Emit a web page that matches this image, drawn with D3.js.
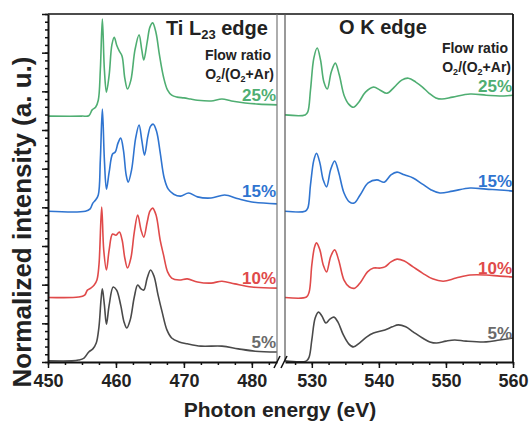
<!DOCTYPE html>
<html><head><meta charset="utf-8">
<script src="https://cdn.jsdelivr.net/npm/d3@7"></script>
<style>
body{margin:0;background:#fff;}
text{font-family:"Liberation Sans",Arial,sans-serif;font-weight:bold;}
</style></head>
<body><svg id="c" width="530" height="421"></svg>
<script>
// ---------- DATA ----------
const seriesNames = ["5%","10%","15%","25%"];
const seriesColors = ["#4a4a4a","#e04a4a","#2f74d0","#4fae72"];
const labelColors  = ["#6a6a6a","#e04a4a","#2f74d0","#4fae72"];

const tiE = [450,453.5,454.5,455.3,456.0,456.6,457.1,457.5,457.8,458.0,458.3,458.6,459.0,459.6,460.1,460.7,461.2,461.6,462.1,462.7,463.2,463.7,464.1,464.6,465.1,465.6,466.2,466.8,467.5,468.2,469.3,470.5,472.5,475.6,478,480.5,483.7];
const ti5 = [0.03,0.03,0.05,0.10,0.26,0.34,0.49,0.91,1.60,1.89,1.47,0.98,1.47,1.94,1.86,1.47,1.03,0.88,1.09,1.68,1.99,1.89,1.86,2.17,2.38,2.22,1.73,1.29,0.83,0.62,0.52,0.47,0.41,0.41,0.34,0.28,0.26];

const tiE10 = [450,454.5,455.4,455.8,456.3,456.8,457.2,457.5,457.9,458.2,458.6,459.0,459.5,460.0,460.5,460.9,461.3,461.7,462.2,462.7,463.2,463.7,464.1,464.6,465.0,465.4,465.9,466.5,467.0,467.6,468.2,469.3,470.5,472,474,475.6,477.5,480,483.7];
const ti10 = [1.67,1.68,1.73,1.86,1.91,1.99,2.12,2.51,4.01,2.90,2.38,2.90,3.31,3.28,3.36,3.16,2.69,2.43,2.69,3.36,3.80,3.41,3.23,3.62,3.90,3.98,3.80,3.16,2.77,2.33,2.17,2.12,2.15,2.07,2.04,2.09,2.02,1.94,1.91];

const tiE15 = [450,455.5,456.2,456.6,457.0,457.4,457.7,458.0,458.3,458.6,459.0,459.5,459.9,460.3,460.7,461.1,461.5,461.8,462.3,462.9,463.4,463.8,464.2,464.7,465.1,465.5,466.0,466.5,467.1,467.7,468.5,469.5,470.7,472,474,476,478,480,483.7];
const ti15 = [3.90,3.90,3.96,4.11,4.19,4.32,5.22,6.54,5.22,4.47,4.91,5.38,5.43,5.66,5.79,5.48,4.84,4.65,4.97,5.79,6.13,5.74,5.35,5.84,6.10,6.15,5.95,5.43,4.76,4.47,4.34,4.29,4.37,4.27,4.24,4.32,4.22,4.14,4.09];

const tiE25 = [450,455,456.0,456.5,457.0,457.4,457.7,458.0,458.3,458.6,459.0,459.4,459.75,460.1,460.5,460.9,461.3,461.7,462.2,462.8,463.4,463.8,464.1,464.6,465.0,465.4,465.9,466.4,467.0,467.6,468.2,469,470,471,472,474,475.6,477,479,481,483.7];
const ti25 = [6.36,6.36,6.37,6.52,6.59,6.77,7.55,8.87,7.55,6.98,7.42,8.20,8.40,8.20,8.04,7.91,7.34,7.06,7.29,8.07,8.46,8.07,7.81,8.28,8.66,8.77,8.51,7.94,7.37,7.03,6.90,6.85,6.83,6.80,6.77,6.75,6.80,6.75,6.70,6.67,6.65];

const oE25 = [526,529.0,529.4,529.8,530.3,530.8,531.3,531.8,532.3,532.9,533.5,534.1,534.8,535.5,536.2,537.0,538.0,539.2,540.2,541.2,542.3,543.4,544.4,545.5,546.5,547.5,548.5,549.4,551,553.6,556,558,560];
const o25 = [6.39,6.39,6.47,7.03,7.86,8.12,7.81,7.24,7.06,7.50,7.73,7.42,6.90,6.67,6.59,6.72,6.98,7.11,7.03,6.95,7.11,7.29,7.34,7.24,7.11,6.95,6.83,6.80,6.85,6.93,6.90,6.88,6.90];

const oE15 = [526,529.0,529.4,529.8,530.3,530.7,531.2,531.7,532.2,532.8,533.4,534.0,534.8,535.6,536.3,537.2,538.4,539.7,540.8,541.8,542.7,543.8,545.1,546.5,547.8,549.1,551,553.6,556,558,560];
const o15 = [3.90,3.90,3.98,4.58,5.22,5.40,5.15,4.71,4.53,4.97,5.20,4.91,4.37,4.14,4.11,4.32,4.63,4.71,4.65,4.84,4.91,4.84,4.76,4.60,4.45,4.37,4.42,4.50,4.47,4.45,4.42];

const oE10 = [526,529.2,529.6,530.0,530.4,530.7,531.2,531.7,532.2,532.8,533.4,534.0,534.8,535.6,536.4,537.3,538.3,539.2,540.2,540.9,541.8,542.7,543.8,545.1,546.5,548,549.6,551.5,553.6,556,558,560];
const o10 = [1.67,1.68,1.81,2.51,2.97,3.08,2.90,2.51,2.33,2.72,2.90,2.64,2.12,1.94,1.91,2.07,2.33,2.43,2.43,2.46,2.59,2.66,2.61,2.46,2.30,2.15,2.09,2.17,2.25,2.25,2.22,2.20];

const oE5 = [526,529.2,529.6,530.0,530.5,531.0,531.5,532.1,532.7,533.3,533.9,534.7,535.5,536.2,537.1,538.2,539.2,540.9,542.0,542.9,544.0,545.1,546.5,547.6,548.6,550,551.3,553,556,558,560];
const o5 = [0.03,0.03,0.13,0.57,1.14,1.29,1.19,1.01,1.11,1.16,1.03,0.70,0.47,0.39,0.49,0.65,0.75,0.83,0.91,0.96,0.91,0.78,0.62,0.52,0.49,0.54,0.57,0.54,0.52,0.57,0.62];

const tiTicks = [450,460,470,480];
const oTicks = [530,540,550,560];
const tiDomain = [450,483.7];
const oDomain = [526,560];
const yDomain = [0,9];

// ---------- LAYOUT ----------
const svg = d3.select("#c");
const yTop = 14, yBot = 362;
const xTi = d3.scaleLinear().domain(tiDomain).range([48,277]);
const xO  = d3.scaleLinear().domain(oDomain).range([285,513]);
const y = d3.scaleLinear().domain(yDomain).range([yBot, yTop]);

const tiSeries = [[tiE,ti5],[tiE10,ti10],[tiE15,ti15],[tiE25,ti25]];
const oSeries  = [[oE5,o5],[oE10,o10],[oE15,o15],[oE25,o25]];

function drawCurves(xs, data){
  data.forEach((d,i)=>{
    const pts = d[0].map((e,k)=>[e,d[1][k]]);
    const line = d3.line().x(p=>xs(p[0])).y(p=>y(p[1])).curve(d3.curveCatmullRom.alpha(0.5));
    svg.append("path").attr("d",line(pts)).attr("fill","none")
      .attr("stroke",seriesColors[i]).attr("stroke-width",1.6).attr("stroke-linejoin","round");
  });
}
drawCurves(xTi, tiSeries);
drawCurves(xO, oSeries);

// frame
svg.append("line").attr("x1",48).attr("x2",513).attr("y1",yTop).attr("y2",yTop).attr("stroke","#111").attr("stroke-width",1.5);
svg.append("line").attr("x1",513).attr("x2",513).attr("y1",yTop).attr("y2",yBot).attr("stroke","#111").attr("stroke-width",1.8);
svg.append("line").attr("x1",277).attr("x2",277).attr("y1",yTop).attr("y2",yBot).attr("stroke","#777").attr("stroke-width",1.2);
svg.append("line").attr("x1",285).attr("x2",285).attr("y1",yTop).attr("y2",yBot).attr("stroke","#555").attr("stroke-width",1.2);

// y axis
const yMinor = d3.range(0,9.0001,0.2);
svg.append("g").attr("transform","translate(48,0)")
  .call(d3.axisLeft(y).tickValues(yMinor).tickSize(3).tickFormat(""))
  .call(g=>g.select(".domain").remove())
  .selectAll("line").attr("stroke","#111").attr("stroke-width",1.5);
svg.append("g").attr("transform","translate(48,0)")
  .call(d3.axisLeft(y).tickValues(d3.range(0,10,1)).tickSize(6).tickFormat("").tickSizeOuter(0))
  .call(g=>g.select(".domain").attr("stroke","#111").attr("stroke-width",2))
  .selectAll("line").attr("stroke","#111").attr("stroke-width",1.5);

// x axes
function xAxis(xs, ticks, dom){
  const minor = d3.range(Math.ceil(dom[0]/2.5)*2.5, dom[1]+0.001, 2.5);
  svg.append("g").attr("transform",`translate(0,${yBot})`)
    .call(d3.axisBottom(xs).tickValues(minor).tickSize(3).tickFormat(""))
    .call(g=>g.select(".domain").remove())
    .selectAll("line").attr("stroke","#111").attr("stroke-width",1.5);
  const g = svg.append("g").attr("transform",`translate(0,${yBot})`)
    .call(d3.axisBottom(xs).tickValues(ticks).tickSize(6).tickSizeOuter(0).tickPadding(6));
  g.select(".domain").attr("stroke","#111").attr("stroke-width",2);
  g.selectAll("line").attr("stroke","#111").attr("stroke-width",1.5);
  g.selectAll("text").attr("font-size",18).attr("fill","#222")
   .style("font-family","'Liberation Sans',Arial,sans-serif").style("font-weight","bold");
}
xAxis(xTi, tiTicks, tiDomain);
xAxis(xO, oTicks, oDomain);

// break marks
[[278,yBot],[285,yBot]].forEach(p=>{
  svg.append("line").attr("x1",p[0]-4).attr("y1",p[1]+6).attr("x2",p[0]+2).attr("y2",p[1]-6)
    .attr("stroke","#111").attr("stroke-width",1.5);
});

// axis titles
svg.append("text").attr("x",280).attr("y",417).attr("text-anchor","middle")
  .attr("font-size",21).attr("fill","#222").text("Photon energy (eV)");
svg.append("text").attr("transform","translate(31,222) rotate(-90)").attr("text-anchor","middle")
  .attr("font-size",26).attr("fill","#222").text("Normalized intensity (a. u.)");

// panel titles
const t1 = svg.append("text").attr("x",166).attr("y",35).attr("font-size",20).attr("fill","#222");
t1.append("tspan").text("Ti L");
t1.append("tspan").attr("font-size",13).attr("dy",4).text("23");
t1.append("tspan").attr("dy",-4).text(" edge");
svg.append("text").attr("x",383).attr("y",34).attr("text-anchor","middle").attr("font-size",20).attr("fill","#222").text("O K edge");

function legend(xr, yb){
  svg.append("text").attr("x",xr-3).attr("y",yb).attr("text-anchor","end").attr("font-size",14).attr("fill","#222").text("Flow ratio");
  const t = svg.append("text").attr("x",xr).attr("y",yb+19).attr("text-anchor","end").attr("font-size",14).attr("fill","#222");
  t.append("tspan").text("O");
  t.append("tspan").attr("font-size",9).attr("dy",3).text("2");
  t.append("tspan").attr("dy",-3).text("/(O");
  t.append("tspan").attr("font-size",9).attr("dy",3).text("2");
  t.append("tspan").attr("dy",-3).text("+Ar)");
}
legend(274, 60);
legend(511, 53);

// series labels
const tiLabelY = [348,284,197,101];
const oLabelY = [339,274,187,92];
seriesNames.forEach((n,i)=>{
  svg.append("text").attr("x",276).attr("y",tiLabelY[i]).attr("text-anchor","end")
    .attr("font-size",17).attr("fill",labelColors[i]).text(n);
  svg.append("text").attr("x",512).attr("y",oLabelY[i]).attr("text-anchor","end")
    .attr("font-size",17).attr("fill",labelColors[i]).text(n);
});
</script></body></html>
